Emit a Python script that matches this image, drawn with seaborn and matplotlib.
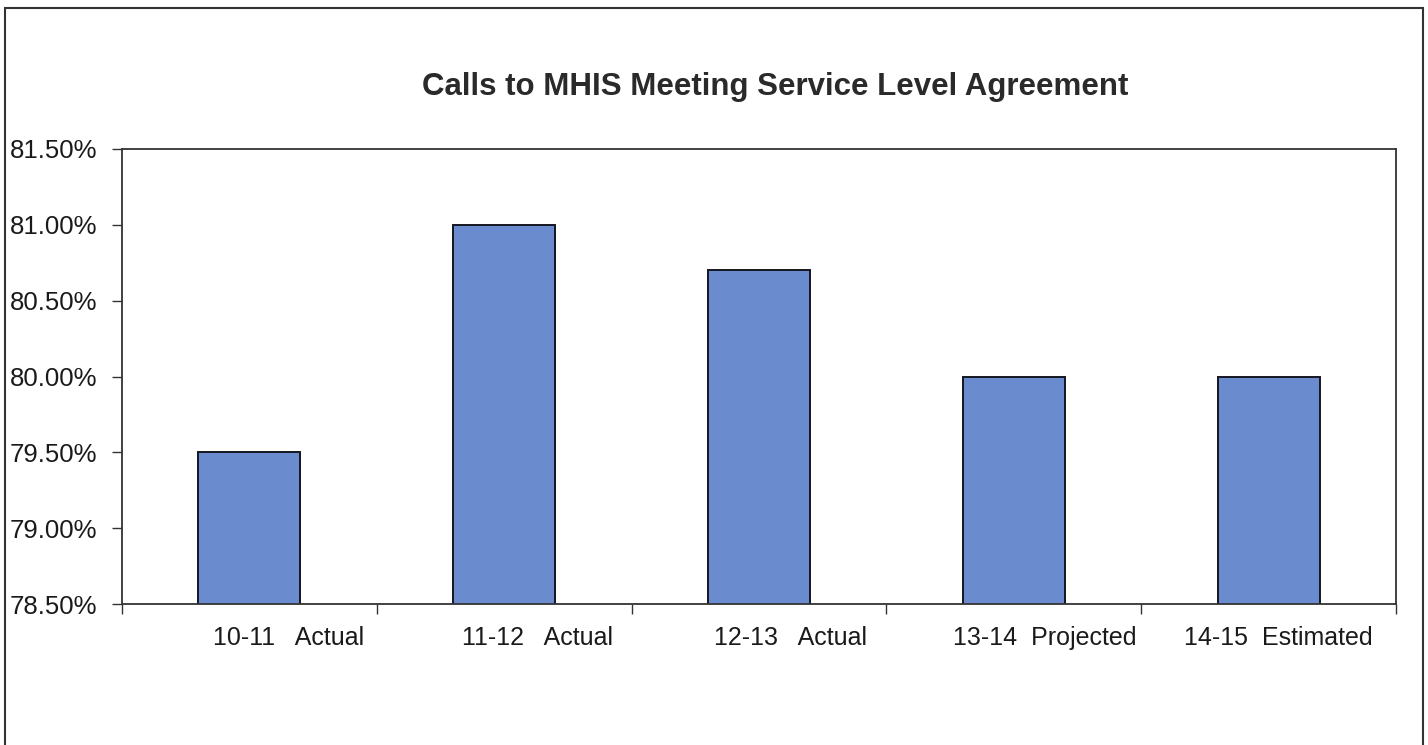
import matplotlib.pyplot as plt
import matplotlib.patches as mpatches
import matplotlib.transforms as mtransforms
from matplotlib.ticker import FixedLocator, FuncFormatter
import seaborn as sns
import pandas as pd

years = ["10-11   Actual", "11-12   Actual", "12-13   Actual", "13-14  Projected", "14-15  Estimated"]
pct = [79.50, 81.00, 80.70, 80.00, 80.00]

df = pd.DataFrame({"Year": years, "Pct": pct})

sns.set_theme(style="white")
plt.rcParams['font.family'] = ['Liberation Sans', 'DejaVu Sans']

fig = plt.figure(figsize=(14.28, 7.45), dpi=100)
ax = fig.add_axes([122 / 1428, 1 - 604 / 745, (1396 - 122) / 1428, (604 - 149) / 745])

sns.barplot(data=df, x="Year", y="Pct", color="#6a8ccf", width=0.4,
            edgecolor="#15151f", linewidth=1.4, saturation=1, ax=ax)

ax.set_ylim(78.5, 81.5)
ax.set_xlim(-0.5, len(years) - 0.5)
ax.set_yticks([78.5, 79.0, 79.5, 80.0, 80.5, 81.0, 81.5])
ax.yaxis.set_major_formatter(FuncFormatter(lambda v, p: f"{v:.2f}%"))
ax.set_xlabel("")
ax.set_ylabel("")

# category boundary ticks on x, labels under bars
ax.xaxis.set_minor_locator(FixedLocator([i - 0.5 for i in range(len(years) + 1)]))
ax.tick_params(axis="x", which="major", length=0, pad=16, labelsize=18, colors="#1a1a1a")
ax.tick_params(axis="x", which="minor", length=7, width=1, direction="out", bottom=True, color="#333333")
ax.tick_params(axis="y", which="major", length=7, width=1, direction="out", left=True,
               pad=11, labelsize=18.5, colors="#1a1a1a")
ax.tick_params(axis="y", color="#333333")

# labels in the original sit a little right of the bar centres
shifts = [39, 33, 31, 31, 10]
for lab, dx in zip(ax.get_xticklabels(), shifts):
    lab.set_transform(lab.get_transform() + mtransforms.ScaledTranslation(dx / 100, 0, fig.dpi_scale_trans))

for s in ax.spines.values():
    s.set_visible(True)
    s.set_color("#333333")
    s.set_linewidth(1.3)

fig.text(775 / 1428, 1 - 87 / 745, "Calls to MHIS Meeting Service Level Agreement",
         ha="center", va="center", fontsize=22.5, fontweight="bold", color="#2a2a2a")

# outer chart border
fig.patches.append(mpatches.Rectangle((5 / 1428, -0.02), (1423 - 5) / 1428, 1.02 - 8 / 745,
                                      transform=fig.transFigure, fill=False,
                                      edgecolor="#333333", linewidth=1.5))

fig.savefig("out.png", dpi=100, facecolor="white")
